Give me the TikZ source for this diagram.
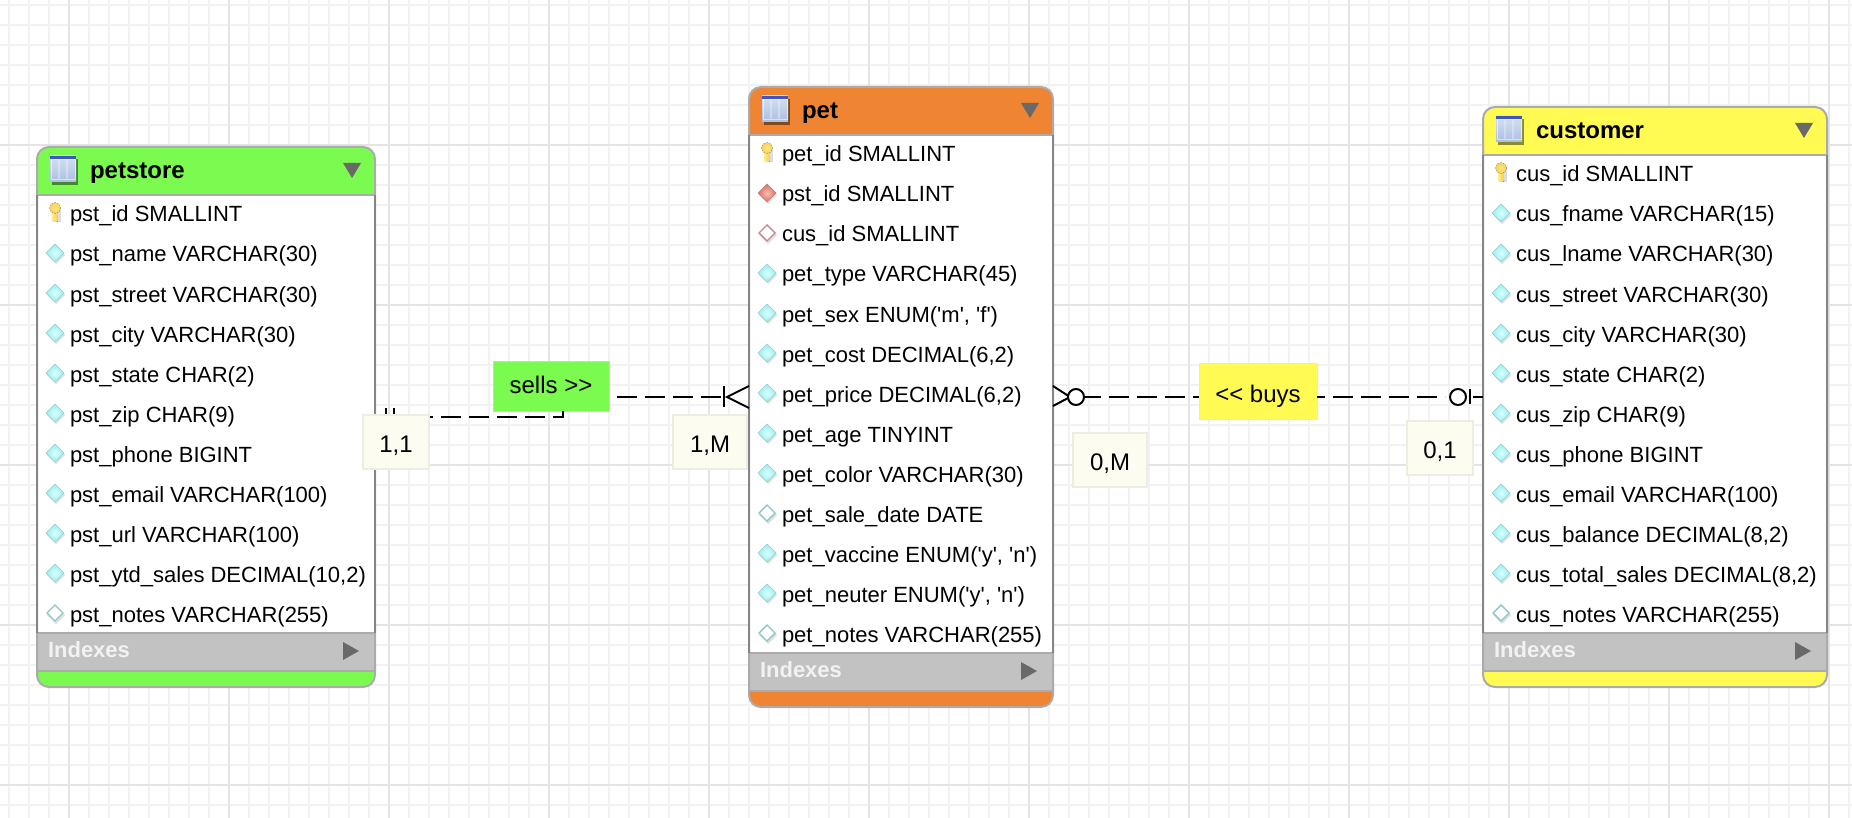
\documentclass[tikz,border=0pt]{standalone}
\usepackage{fontspec}
\newfontfamily\lsans{Liberation Sans}
\definecolor{minorgrid}{HTML}{F2F2F2}
\definecolor{majorgrid}{HTML}{E4E4E4}
\definecolor{edgegray}{HTML}{ABABAB}
\definecolor{sidegray}{HTML}{858585}
\definecolor{bandgray}{HTML}{C2C2C2}
\definecolor{trigray}{HTML}{696969}
\definecolor{hgreen}{HTML}{7BFA4F}
\definecolor{horange}{HTML}{EF8432}
\definecolor{hyellow}{HTML}{FFFB52}
\definecolor{notefill}{HTML}{FDFCF1}
\definecolor{noteedge}{HTML}{EEEDE2}
\definecolor{attrin}{HTML}{DDFFFF}
\definecolor{attrout}{HTML}{97EDEE}
\definecolor{attredge}{HTML}{9FD8D8}
\definecolor{nulledge}{HTML}{8CC8C8}
\definecolor{fkin}{HTML}{F6C0B8}
\definecolor{fkout}{HTML}{DC6E64}
\definecolor{fkedge}{HTML}{C98A85}
\definecolor{keylight}{HTML}{FFE97F}
\definecolor{keydark}{HTML}{F6CF5C}
\definecolor{iconlight}{HTML}{D6E1F1}
\definecolor{icondark}{HTML}{A9BFE2}
\definecolor{iconstrip}{HTML}{3C55C8}
\tikzset{
  x=1pt, y=-1pt,
  entity/.style={rectangle, rounded corners=12pt, inner sep=0pt, outer sep=0pt},
  rowtext/.style={anchor=base west, inner sep=0pt, outer sep=0pt, text=black,
    font=\lsans\fontsize{22}{26}\selectfont},
  titletext/.style={anchor=base west, inner sep=0pt, outer sep=0pt, text=black,
    font=\lsans\bfseries\fontsize{24}{28}\selectfont},
  idxtext/.style={anchor=base west, inner sep=0pt, outer sep=0pt, text=white!95!black,
    font=\lsans\bfseries\fontsize{22}{26}\selectfont},
  relbox/.style={rectangle, inner sep=0pt, outer sep=0pt, text=black, line width=1pt,
    text depth=0pt, font=\lsans\fontsize{24}{28}\selectfont},
  notebox/.style={relbox, fill=notefill, draw=noteedge, line width=2pt, text height=20pt},
  rel/.style={black, line width=2pt, dash pattern=on 20pt off 8pt},
  relsolid/.style={black, line width=2pt},
}
% column icons: #1 = x centre, #2 = y centre
\newcommand\diamondpath[3]{(#1,#2-#3) -- (#1+#3,#2) -- (#1,#2+#3) -- (#1-#3,#2) -- cycle}
\newcommand\iconshadow[2]{\fill[black!30,opacity=.4] \diamondpath{#1+1}{#2+2}{9};}
\newcommand\iconpk[2]{%
  \fill[black!30,opacity=.45] (#1+2,#2-6) rectangle (#1+6,#2+9);
  \fill[left color=keylight,right color=keydark] (#1-2.5,#2-4) rectangle (#1+2.5,#2+9);
  \fill[inner color=keylight,outer color=keydark] (#1,#2-5) circle[radius=5.5];}
\newcommand\iconattr[2]{\iconshadow{#1}{#2}%
  \fill[inner color=attrin,outer color=attrout] \diamondpath{#1}{#2}{9};
  \draw[attredge,line width=.6pt] \diamondpath{#1}{#2}{9};}
\newcommand\iconnull[2]{\iconshadow{#1}{#2}%
  \fill[white,draw=nulledge,line width=1.4pt] \diamondpath{#1}{#2}{8};}
\newcommand\iconfk[2]{\iconshadow{#1}{#2}%
  \fill[inner color=fkin,outer color=fkout] \diamondpath{#1}{#2}{9};
  \draw[fkedge,line width=.6pt] \diamondpath{#1}{#2}{9};}
\newcommand\iconfknull[2]{\iconshadow{#1}{#2}%
  \fill[white,draw=fkedge,line width=1.4pt] \diamondpath{#1}{#2}{8};}
% entity: #1 name, #2 x1, #3 y1, #4 x2, #5 y2, #6 colour, #7 title
\newcommand\entitybox[7]{%
  \node[entity, minimum width={(#4-#2)*1pt}, minimum height={(#5-#3)*1pt}, fill=white] (#1) at ({(#2+#4)/2},{(#3+#5)/2}) {};
  \begin{scope}
    \clip[rounded corners=12pt] (#2,#3) rectangle (#4,#5);
    \fill[#6] (#2,#3) rectangle (#4,#3+48);
    \fill[#6] (#2,#5-16) rectangle (#4,#5);
    \fill[bandgray] (#2,#5-54) rectangle (#4,#5-16);
    \draw[edgegray,line width=2pt] (#2,#3+48) -- (#4,#3+48);
    \draw[edgegray,line width=2pt] (#2,#5-54) -- (#4,#5-54);
    \draw[edgegray,line width=2pt] (#2,#5-16) -- (#4,#5-16);
  \end{scope}
  \draw[edgegray,line width=2pt,rounded corners=12pt] (#2,#3) rectangle (#4,#5);
  \draw[sidegray,line width=2pt] (#2,#3+48) -- (#2,#5-54) (#4,#3+48) -- (#4,#5-54);
  % table icon
  \fill[black!45!#6] (#2+15,#3+12) rectangle (#2+41,#3+38);
  \fill[top color=iconlight,bottom color=icondark] (#2+13,#3+9) rectangle (#2+39,#3+35);
  \fill[iconstrip] (#2+13,#3+9) rectangle (#2+39,#3+12);
  \fill[white,opacity=.3] (#2+21,#3+13) rectangle (#2+23,#3+32) (#2+29,#3+13) rectangle (#2+31,#3+32);
  \draw[white,opacity=.55,line width=1pt] (#2+14,#3+13) rectangle (#2+38,#3+33);
  % title, triangles, band text
  \node[titletext] (#1title) at (#2+53,#3+32) {#7};
  \fill[trigray] (#4-32,#3+16) -- (#4-14,#3+16) -- (#4-23,#3+31) -- cycle;
  \node[idxtext] (#1idx) at (#2+11,#5-30) {Indexes};
  \fill[trigray] (#4-32,#5-45) -- (#4-16,#5-36) -- (#4-32,#5-27) -- cycle;
}
\newcommand\entityrows[4]{%
  \foreach \kind/\txt [count=\i from 0] in {#4} {
    \csname icon\kind\endcsname{#2+18}{#3+40*\i}
    \node[rowtext] (#1row\i) at (#2+33,#3+40*\i+9) {\txt};
  }}
\begin{document}
\begin{tikzpicture}
\useasboundingbox (0,0) rectangle (1852,818);
\fill[white] (0,0) rectangle (1852,818);
% grid
\foreach \k in {0,...,92} \draw[minorgrid,line width=2pt] (9+20*\k,0) -- (9+20*\k,818);
\foreach \k in {0,...,40} \draw[minorgrid,line width=2pt] (0,5+20*\k) -- (1852,5+20*\k);
\foreach \k in {0,...,4} \draw[majorgrid,line width=2pt] (0,145+160*\k) -- (1852,145+160*\k);
\foreach \k in {0,...,11} \draw[majorgrid,line width=2pt] (69+160*\k,0) -- (69+160*\k,818);
% entities
\entitybox{petstore}{37}{147}{375}{687}{hgreen}{petstore}
\entitybox{pet}{749}{87}{1053}{707}{horange}{pet}
\entitybox{customer}{1483}{107}{1827}{687}{hyellow}{customer}
\entityrows{petstore}{37}{213}{pk/{pst\_id SMALLINT},attr/{pst\_name VARCHAR(30)},attr/{pst\_street VARCHAR(30)},attr/{pst\_city VARCHAR(30)},attr/{pst\_state CHAR(2)},attr/{pst\_zip CHAR(9)},attr/{pst\_phone BIGINT},attr/{pst\_email VARCHAR(100)},attr/{pst\_url VARCHAR(100)},attr/{pst\_ytd\_sales DECIMAL(10,2)},null/{pst\_notes VARCHAR(255)}}
\entityrows{pet}{749}{153}{pk/{pet\_id SMALLINT},fk/{pst\_id SMALLINT},fknull/{cus\_id SMALLINT},attr/{pet\_type VARCHAR(45)},attr/{pet\_sex ENUM('m', 'f')},attr/{pet\_cost DECIMAL(6,2)},attr/{pet\_price DECIMAL(6,2)},attr/{pet\_age TINYINT},attr/{pet\_color VARCHAR(30)},null/{pet\_sale\_date DATE},attr/{pet\_vaccine ENUM('y', 'n')},attr/{pet\_neuter ENUM('y', 'n')},null/{pet\_notes VARCHAR(255)}}
\entityrows{customer}{1483}{173}{pk/{cus\_id SMALLINT},attr/{cus\_fname VARCHAR(15)},attr/{cus\_lname VARCHAR(30)},attr/{cus\_street VARCHAR(30)},attr/{cus\_city VARCHAR(30)},attr/{cus\_state CHAR(2)},attr/{cus\_zip CHAR(9)},attr/{cus\_phone BIGINT},attr/{cus\_email VARCHAR(100)},attr/{cus\_balance DECIMAL(8,2)},attr/{cus\_total\_sales DECIMAL(8,2)},null/{cus\_notes VARCHAR(255)}}
% relationship labels
\node[relbox, fill=hgreen, draw=hgreen!75!white, minimum width=116pt, minimum height=50pt, text height=15pt] (sells) at (551,386) {sells >{}>\hspace{3pt}};
\node[relbox, fill=hyellow, draw=hyellow!60!gray!40!white, minimum width=118pt, minimum height=56pt, text height=22pt] (buys) at (1258,391) {<{}< buys\hspace{4pt}};
% connector petstore - pet
\draw[rel, dash phase=18pt] ([yshift=-270pt]petstore.north east) -| ([xshift=12pt]sells.south);
\draw[rel, dash phase=20pt] (sells.east |- pet.west) -- ([xshift=-22pt]pet.west);
\draw[relsolid] ([xshift=11pt,yshift=-261pt]petstore.north east) -- ([xshift=11pt,yshift=-276pt]petstore.north east);
\draw[relsolid] ([xshift=19pt,yshift=-261pt]petstore.north east) -- ([xshift=19pt,yshift=-276pt]petstore.north east);
\draw[relsolid] ([xshift=-25pt,yshift=11pt]pet.west) -- ([xshift=-25pt,yshift=-10pt]pet.west);
\draw[relsolid] ([yshift=11pt]pet.west) -- ([xshift=-22pt]pet.west) -- ([yshift=-11pt]pet.west);
% connector pet - customer
\draw[rel, dash phase=4pt] ([xshift=32pt]pet.east) -- (buys.west |- customer.west);
\draw[rel, dash phase=12pt] (buys.east |- customer.west) -- ([xshift=-38pt]customer.west);
\draw[relsolid] ([xshift=-10pt]customer.west) -- (customer.west);
\draw[relsolid] ([yshift=11pt]pet.east) -- ([xshift=17pt]pet.east) -- ([yshift=-9pt]pet.east);
\node[circle, draw=black, fill=white, line width=2pt, minimum size=16pt, inner sep=0pt, outer sep=0pt] (optM) at ([xshift=23pt]pet.east) {};
\node[circle, draw=black, fill=white, line width=2pt, minimum size=16pt, inner sep=0pt, outer sep=0pt] (opt1) at ([xshift=-25pt]customer.west) {};
\draw[relsolid] ([xshift=-13pt,yshift=8pt]customer.west) -- ([xshift=-13pt,yshift=-7pt]customer.west);
% cardinality labels
\node[notebox, minimum width=66pt, minimum height=54pt] (c11) at (396,442) {1,1\hspace{4pt}};
\node[notebox, minimum width=74pt, minimum height=54pt] (c1m) at (710,442) {1,M\hspace{4pt}};
\node[notebox, minimum width=74pt, minimum height=54pt] (c0m) at (1110,460) {0,M\hspace{4pt}};
\node[notebox, minimum width=66pt, minimum height=54pt] (c01) at (1440,448) {0,1\hspace{4pt}};
\end{tikzpicture}
\end{document}
